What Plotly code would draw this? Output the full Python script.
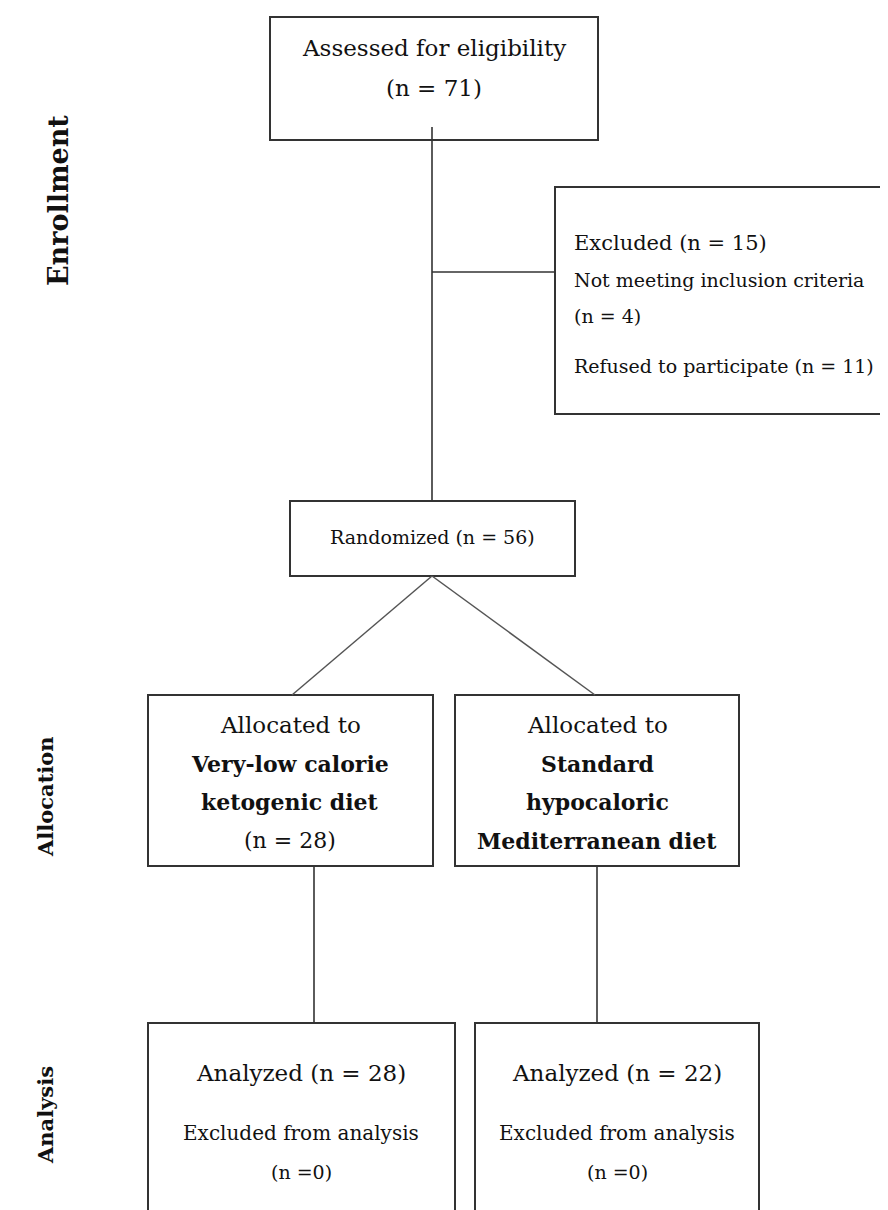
import plotly.graph_objects as go

# ---- data ----
stage_labels = ["Enrollment", "Allocation", "Analysis"]
assessed_n = 71
excluded_n = 15
not_meeting_n = 4
refused_n = 11
randomized_n = 56
arm_names = [["Very-low calorie", "ketogenic diet"], ["Standard", "hypocaloric", "Mediterranean diet"]]
allocated_n = [28, None]
analyzed_n = [28, 22]
excluded_analysis_n = [0, 0]

# page body has an 8px margin; map screen pixels directly onto data units
OFF = 8
W, H = 888, 1210
FONT = "DejaVu Serif"
LINE = "#333333"

fig = go.Figure()
shapes = []
annotations = []


def rect(x0, y0, x1, y1, open_bottom=False):
    if open_bottom:
        shapes.append(dict(type="path", path=f"M {x0},{y1} L {x0},{y0} L {x1},{y0} L {x1},{y1}",
                           xref="x", yref="y", line=dict(color=LINE, width=2)))
    else:
        shapes.append(dict(type="rect", x0=x0, y0=y0, x1=x1, y1=y1, xref="x", yref="y",
                           line=dict(color=LINE, width=2), fillcolor="rgba(0,0,0,0)"))


def line(x0, y0, x1, y1, color=LINE, width=1.6):
    shapes.append(dict(type="line", x0=x0, y0=y0, x1=x1, y1=y1, xref="x", yref="y",
                       line=dict(color=color, width=width)))


def text(x, y, s, size, anchor="center", color="#111111", angle=0):
    annotations.append(dict(x=x, y=y, xref="x", yref="y", text=s, showarrow=False,
                            xanchor=anchor, yanchor="middle", textangle=angle,
                            font=dict(family=FONT, size=size, color=color)))


# boxes
rect(270, 17, 598, 140)
rect(555, 187, 886, 414)
rect(290, 501, 575, 576)
rect(148, 695, 433, 866)
rect(455, 695, 739, 866)
rect(148, 1023, 455, 1240, open_bottom=True)
rect(475, 1023, 759, 1240, open_bottom=True)

# connectors
line(432, 127, 432, 501)
line(432, 272, 555, 272)
line(432, 576, 292, 695, color="#555555", width=1.5)
line(432, 576, 595, 695, color="#555555", width=1.5)
line(314, 866, 314, 1023)
line(597, 866, 597, 1023)

# texts
text(434, 48, "Assessed for eligibility", 23)
text(434, 88, f"(n = {assessed_n})", 23)

text(572, 243, f"Excluded (n = {excluded_n})", 21, anchor="left")
text(572, 280, "Not meeting inclusion criteria", 19, anchor="left")
text(572, 316, f"(n = {not_meeting_n})", 19, anchor="left")
text(572, 366, f"Refused to participate (n = {refused_n})", 19, anchor="left")

text(432, 537, f"Randomized (n = {randomized_n})", 19)

arm_cx = [290, 597]
for i, cx in enumerate(arm_cx):
    lines_ = [("Allocated to", 23)] + [(f"<b>{s}</b>", 22) for s in arm_names[i]]
    if allocated_n[i] is not None:
        lines_.append((f"(n = {allocated_n[i]})", 22))
    for j, (s, sz) in enumerate(lines_):
        text(cx, 725 + j * 38.5, s, sz)

an_cx = [301, 617]
for i, cx in enumerate(an_cx):
    text(cx, 1073, f"Analyzed (n = {analyzed_n[i]})", 23)
    text(cx, 1133, "Excluded from analysis", 20)
    text(cx, 1172, f"(n ={excluded_analysis_n[i]})", 19)

stage_y = [201, 797, 1115]
stage_x = [58, 45, 45]
stage_size = [27, 21, 21]
for s, x, y, sz in zip(stage_labels, stage_x, stage_y, stage_size):
    text(x, y, f"<b>{s}</b>", sz, angle=-90)

fig.update_layout(
    width=W - OFF, height=H - OFF, margin=dict(l=0, r=0, t=0, b=0),
    plot_bgcolor="white", paper_bgcolor="white",
    xaxis=dict(range=[OFF, W], visible=False, fixedrange=True),
    yaxis=dict(range=[H, OFF], visible=False, fixedrange=True),
    shapes=shapes, annotations=annotations, showlegend=False,
)

fig.write_html("out.html")
